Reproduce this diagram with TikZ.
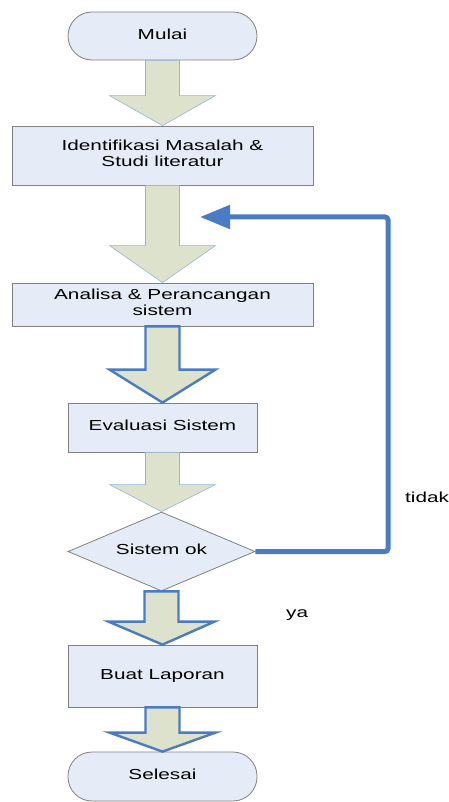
\documentclass[tikz,border=0pt]{standalone}
\usepackage{fontspec}
\setmainfont{Liberation Sans}
\usepackage{graphicx}
\usetikzlibrary{shapes.geometric,arrows.meta,calc}
\definecolor{boxfill}{RGB}{230,236,247}
\definecolor{boxline}{RGB}{128,128,128}
\definecolor{arrfill}{RGB}{221,226,205}
\definecolor{arrblue}{RGB}{74,123,196}
\definecolor{arrthin}{RGB}{150,180,215}
\newcommand\lbl[1]{\scalebox{1.43}[1]{\begin{tabular}{@{}c@{}}#1\end{tabular}}}
\newcommand\barrow[4]{%
 \draw[#1] let \p1=(#2.south), \p2=(#3.north) in
 (\x1-17pt,\y1) -- (\x1-17pt,\y2+#4pt) -- (\x1-53pt,\y2+#4pt) -- (\x2,\y2)
 -- (\x1+53pt,\y2+#4pt) -- (\x1+17pt,\y2+#4pt) -- (\x1+17pt,\y1) -- cycle;}
\tikzset{
 txt/.style={font=\fontsize{14.5}{16}\selectfont, text=black},
 procbox/.style={txt, draw=boxline, fill=boxfill, line width=0.8pt, inner sep=0pt, rectangle},
 termbox/.style={procbox, rounded corners=24pt},
 decbox/.style={txt, draw=boxline, fill=boxfill, line width=0.8pt, diamond, inner sep=0pt, aspect=2.37},
 plainarr/.style={draw=arrthin, fill=arrfill, line width=0.6pt, line join=miter},
 bluearr/.style={draw=arrblue, fill=arrfill, line width=2.4pt, line join=miter},
 feedback/.style={draw=arrblue, line width=5pt, rounded corners=3pt, -{Triangle[length=30pt,width=23pt]}},
}
\begin{document}
\begin{tikzpicture}[x=1pt,y=-1pt]
\useasboundingbox (0,0) rectangle (449,802);
% arrows first (under nodes)
\node[termbox, minimum width=189pt, minimum height=48pt] (mulai) at (162.5,36) {\lbl{Mulai}};
\node[procbox, minimum width=301pt, minimum height=59pt] (ident) at (162.5,155.5) {\lbl{Identifikasi Masalah \&\\Studi literatur}};
\node[procbox, minimum width=301pt, minimum height=43pt] (anal) at (162.5,304.5) {\lbl{Analisa \& Perancangan\\sistem}};
\node[procbox, minimum width=189pt, minimum height=49pt] (eval) at (162.5,427.5) {\lbl{Evaluasi Sistem}};
\node[decbox, minimum width=187pt, minimum height=79pt] (dec) at (161.5,551.5) {\lbl{Sistem ok}};
\node[procbox, minimum width=189pt, minimum height=62pt] (lap) at (162.5,676) {\lbl{Buat Laporan}};
\node[termbox, minimum width=189pt, minimum height=49pt] (end) at (162.5,776.5) {\lbl{Selesai}};

\barrow{plainarr}{mulai}{ident}{30}
\barrow{plainarr}{ident}{anal}{37}
\barrow{bluearr}{anal}{eval}{33}
\barrow{plainarr}{eval}{dec}{27}
\barrow{bluearr}{dec}{lap}{23}
\barrow{bluearr}{lap}{end}{19}

\coordinate (fb) at (200,217);
\draw[feedback] (dec.east) -- (388,551.5) -- (388,217) -- (fb);

\node[txt, anchor=base west, inner sep=0pt] (tidak) at (405,502) {\scalebox{1.43}[1]{tidak}};
\node[txt, anchor=base west, inner sep=0pt] (ya) at (286,617) {\scalebox{1.43}[1]{ya}};
\end{tikzpicture}
\end{document}
